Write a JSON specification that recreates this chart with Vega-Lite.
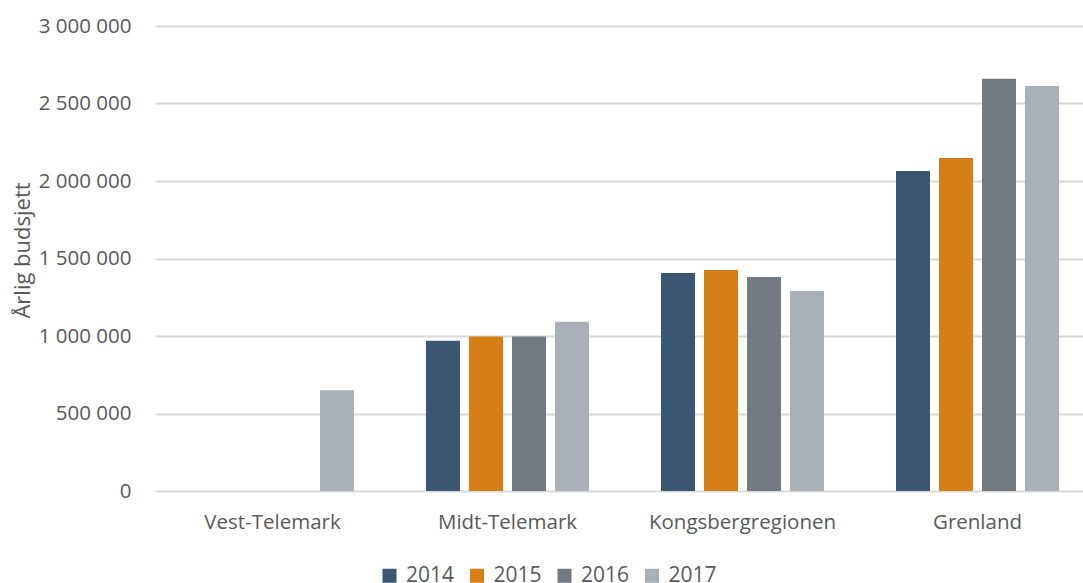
{
  "$schema": "https://vega.github.io/schema/vega-lite/v6.json",
  "autosize": "none",
  "width": 928,
  "height": 465,
  "padding": {"left": 155, "top": 26, "right": 0, "bottom": 92},
  "background": "white",
  "config": {
    "view": {"stroke": null},
    "font": "Open Sans"
  },
  "data": {
    "values": [
      {"region": "Vest-Telemark", "year": "2017", "value": 650000},
      {"region": "Midt-Telemark", "year": "2014", "value": 970000},
      {"region": "Midt-Telemark", "year": "2015", "value": 997000},
      {"region": "Midt-Telemark", "year": "2016", "value": 997000},
      {"region": "Midt-Telemark", "year": "2017", "value": 1092000},
      {"region": "Kongsbergregionen", "year": "2014", "value": 1406000},
      {"region": "Kongsbergregionen", "year": "2015", "value": 1426000},
      {"region": "Kongsbergregionen", "year": "2016", "value": 1381000},
      {"region": "Kongsbergregionen", "year": "2017", "value": 1290000},
      {"region": "Grenland", "year": "2014", "value": 2064000},
      {"region": "Grenland", "year": "2015", "value": 2148000},
      {"region": "Grenland", "year": "2016", "value": 2660000},
      {"region": "Grenland", "year": "2017", "value": 2613000}
    ]
  },
  "mark": {"type": "bar"},
  "encoding": {
    "x": {
      "field": "region",
      "type": "nominal",
      "sort": ["Vest-Telemark", "Midt-Telemark", "Kongsbergregionen", "Grenland"],
      "scale": {"domain": ["Vest-Telemark", "Midt-Telemark", "Kongsbergregionen", "Grenland"], "range": [0, 940], "paddingInner": 0.268, "paddingOuter": 0.134},
      "axis": {
        "title": null,
        "labelAngle": 0,
        "labelLimit": 0,
        "ticks": false,
        "domain": false,
        "labelPadding": 21,
        "labelFontSize": 20.5,
        "labelColor": "#595959",
        "labelFont": "Open Sans"
      }
    },
    "xOffset": {
      "field": "year",
      "type": "nominal",
      "scale": {"domain": ["2014", "2015", "2016", "2017"], "paddingInner": 0.209, "paddingOuter": 0.1045}
    },
    "y": {
      "field": "value",
      "type": "quantitative",
      "scale": {"domain": [0, 3000000], "nice": false},
      "axis": {
        "title": "Årlig budsjett",
        "titleFontSize": 22,
        "titleFontWeight": "normal",
        "titleColor": "#595959",
        "titleFont": "Open Sans",
        "titleX": -133,
        "titleY": 224,
        "titleBaseline": "middle",
        "titleAnchor": "middle",
        "values": [0, 500000, 1000000, 1500000, 2000000, 2500000, 3000000],
        "labelExpr": "replace(replace(format(datum.value, ',.0f'), ',', ' '), ',', ' ')",
        "ticks": false,
        "domain": false,
        "labelPadding": 24,
        "labelFontSize": 20.5,
        "labelColor": "#595959",
        "labelFont": "Open Sans",
        "gridColor": "#D9D9D9",
        "gridWidth": 2
      }
    },
    "color": {
      "field": "year",
      "type": "nominal",
      "scale": {"domain": ["2014", "2015", "2016", "2017"], "range": ["#3A5673", "#D77F17", "#727980", "#AAB0B7"]},
      "legend": {
        "title": null,
        "orient": "none",
        "direction": "horizontal",
        "legendX": 224,
        "legendY": 539,
        "symbolType": "square",
        "symbolSize": 196,
        "symbolStrokeWidth": 0,
        "labelFontSize": 21,
        "labelColor": "#595959",
        "labelFont": "Open Sans",
        "labelOffset": 6,
        "columnPadding": 11.5
      }
    }
  }
}
